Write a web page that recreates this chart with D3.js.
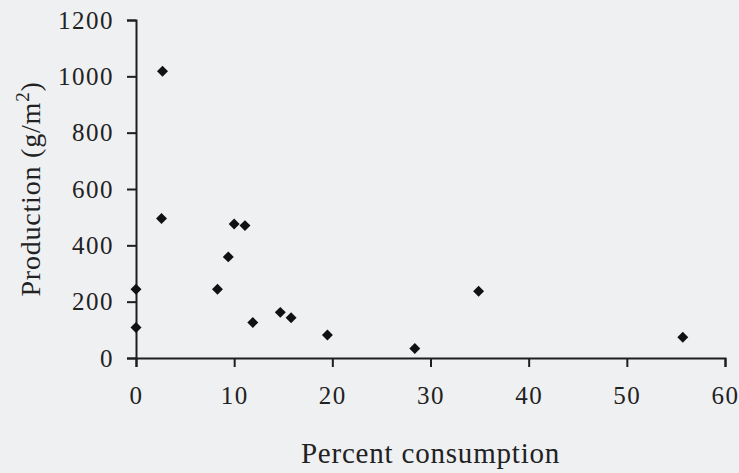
<!DOCTYPE html>
<html>
<head>
<meta charset="utf-8">
<script src="https://cdn.jsdelivr.net/npm/d3@7"></script>
<style>
    html, body { margin: 0; padding: 0; background: #eff0f2; }
    svg { display: block; }
    .tick text { font-family: "Liberation Serif", "Times New Roman", serif; fill: #222; }
</style>
</head>
<body>
<div id="chart"></div>
<script>
// values
const consumption = [0, 0, 2.7, 2.6, 9.4, 8.3, 10, 11.1, 11.9, 14.7, 15.8, 19.5, 28.4, 34.9, 55.7]
const production = [108, 244, 1018, 495, 359, 244, 476, 470, 126, 162, 143, 82, 34, 237, 74]
const xTicks = [0, 10, 20, 30, 40, 50, 60]
const yTicks = [0, 200, 400, 600, 800, 1000, 1200]

const W = 739, H = 473
const margin = {left: 136, right: 14, top: 20, bottom: 115}
const width = W - margin.left - margin.right
const height = H - margin.top - margin.bottom

const svg = d3.select("#chart")
    .append("svg")
    .attr("width", W)
    .attr("height", H)

svg.append("rect")
    .attr("width", W)
    .attr("height", H)
    .attr("fill", "#eff0f2")

const g = svg.append("g")
    .attr("transform", `translate(${margin.left}, ${margin.top})`)

const x = d3.scaleLinear().domain([0, 60]).range([0, width])
const y = d3.scaleLinear().domain([0, 1200]).range([height, 0])

/* X AXIS */
const xAxis = g.append("g")
    .attr("transform", `translate(0, ${height})`)
    .call(d3.axisBottom(x).tickValues(xTicks).tickFormat(d3.format("d"))
        .tickSizeOuter(0).tickSize(9).tickPadding(19))
xAxis.selectAll("text").style("font-size", "25px").attr("letter-spacing", "1.5px")

/* Y AXIS */
const yAxis = g.append("g")
    .call(d3.axisLeft(y).tickValues(yTicks).tickFormat(d3.format("d"))
        .tickSizeOuter(0).tickSize(9).tickPadding(13))
yAxis.selectAll("text").style("font-size", "25px").attr("letter-spacing", "1.5px").attr("dy", "0.33em")

g.selectAll(".domain, .tick line")
    .attr("stroke", "#1e1e1e")
    .attr("stroke-width", 2)

/* POINTS */
const diamond = d3.symbol().type(d3.symbolSquare).size(60)
g.selectAll(".pt")
    .data(consumption.map((c, i) => [c, production[i]]))
    .enter()
    .append("path")
    .attr("class", "pt")
    .attr("d", diamond)
    .attr("transform", d => `translate(${x(d[0])}, ${y(d[1])}) rotate(45)`)
    .attr("fill", "#111")

/* LABELS */
svg.append("text")
    .attr("x", margin.left + width / 2)
    .attr("y", 463)
    .attr("text-anchor", "middle")
    .attr("font-family", "Liberation Serif, serif")
    .attr("font-size", "29px")
    .attr("letter-spacing", "0.8px")
    .attr("fill", "#222")
    .text("Percent consumption")

const ylab = svg.append("text")
    .attr("transform", "translate(40, 189) rotate(-90)")
    .attr("text-anchor", "middle")
    .attr("font-family", "Liberation Serif, serif")
    .attr("font-size", "28px")
    .attr("letter-spacing", "0.8px")
    .attr("fill", "#222")
ylab.append("tspan").text("Production (g/m")
ylab.append("tspan").attr("dy", "-11").attr("font-size", "19px").text("2")
ylab.append("tspan").attr("dy", "11").text(")")
</script>
</body>
</html>
